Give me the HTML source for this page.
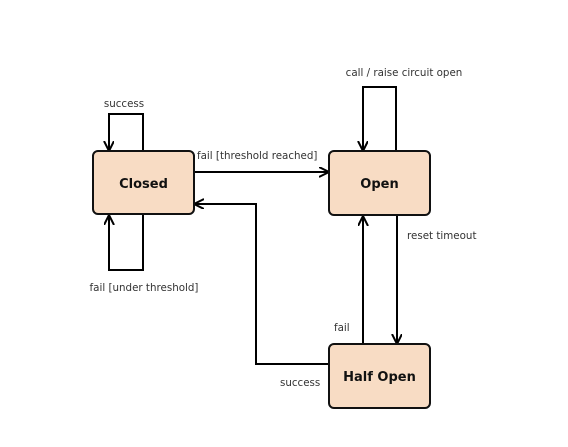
<!DOCTYPE html>
<html><head><style>
html,body{margin:0;padding:0;background:#fff;}
svg{display:block;}
text{font-family:"DejaVu Sans","Liberation Sans",sans-serif;fill:#333;font-size:10.3px;}
.b{font-weight:bold;font-size:13px;fill:#111;}
</style></head><body>
<svg width="568" height="447" viewBox="0 0 568 447" xmlns="http://www.w3.org/2000/svg">
<defs>
<marker id="a" markerWidth="12" markerHeight="12" refX="9" refY="5" orient="auto" markerUnits="userSpaceOnUse">
<path d="M0,0 L10,5 L0,10 M10,5 L0,5" fill="none" stroke="#000" stroke-width="2"/>
</marker>
</defs>
<g fill="none" stroke="#000" stroke-width="2">
<polyline points="143,151 143,114 109,114 109,150" marker-end="url(#a)"/>
<polyline points="143,214 143,270 109,270 109,216" marker-end="url(#a)"/>
<line x1="194" y1="172" x2="328" y2="172" marker-end="url(#a)"/>
<polyline points="329,364 256,364 256,204 195,204" marker-end="url(#a)"/>
<polyline points="396,151 396,87 363,87 363,150" marker-end="url(#a)"/>
<line x1="363" y1="344" x2="363" y2="217" marker-end="url(#a)"/>
<line x1="397" y1="215" x2="397" y2="343" marker-end="url(#a)"/>
</g>
<g fill="#f8dcc4" stroke="#111" stroke-width="2">
<rect x="93" y="151" width="101" height="63" rx="5"/>
<rect x="329" y="151" width="101" height="64" rx="5"/>
<rect x="329" y="344" width="101" height="64" rx="5"/>
</g>
<text class="b" x="143.5" y="188" text-anchor="middle">Closed</text>
<text class="b" x="379.5" y="188" text-anchor="middle">Open</text>
<text class="b" x="379.5" y="381" text-anchor="middle">Half Open</text>
<text x="124" y="107" text-anchor="middle">success</text>
<text x="197" y="159">fail [threshold reached]</text>
<text x="144" y="291" text-anchor="middle">fail [under threshold]</text>
<text x="404" y="76" text-anchor="middle">call / raise circuit open</text>
<text x="407" y="239">reset timeout</text>
<text x="334" y="331">fail</text>
<text x="280" y="386">success</text>
</svg>
</body></html>
